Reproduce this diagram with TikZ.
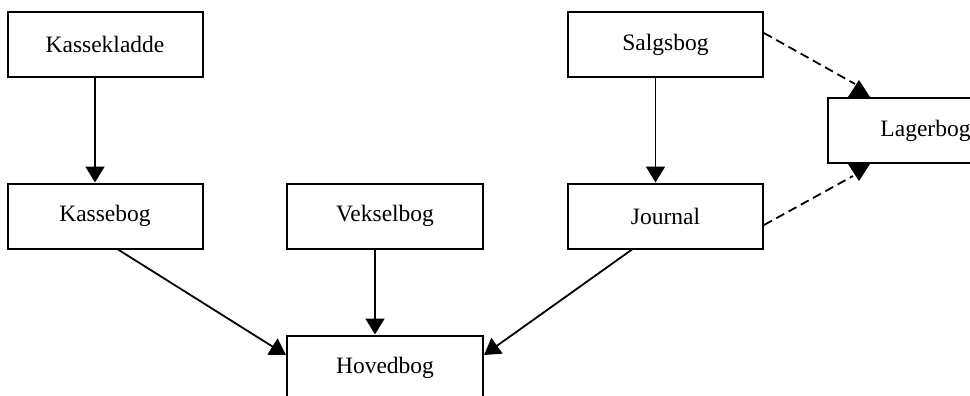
\documentclass[tikz,border=0pt]{standalone}
\usepackage{fontspec}
\setmainfont{Liberation Serif}
\usetikzlibrary{arrows.meta,calc}
\tikzset{
  book/.style={draw, line width=2pt, rectangle, minimum width=195pt, minimum height=65pt,
    inner sep=0pt, font=\fontsize{23.5}{28}\selectfont},
  arr/.style={line width=1.8pt, -{Triangle[length=16pt,width=19pt]}},
  dsh/.style={line width=1.8pt, dash pattern=on 9pt off 5pt},
  tri/.style={fill=black}
}
\begin{document}
\begin{tikzpicture}[x=1pt,y=-1pt]
\useasboundingbox (0,0) rectangle (970,396);
\clip (0,0) rectangle (970,396);
\node[book] (kk) at (105,44.5) {Kassekladde};
\node[book] (ks) at (105,216) {Kassebog};
\node[book, minimum width=196pt] (vk) at (385,216) {Vekselbog};
\node[book] (sg) at (665.5,44.5) {Salgsbog};
\node[book] (jr) at (665.5,216) {Journal};
\node[book] (lg) at (925.5,130.5) {Lagerbog};
\node[book, minimum width=196pt] (hb) at (385,368) {Hovedbog};

\draw[arr] ([xshift=-10pt]kk.south) -- ([xshift=-10pt]ks.north);
\draw[arr] ([xshift=-10pt]sg.south) -- ([xshift=-10pt]sg.south |- jr.north);
\draw[arr] ([xshift=-10pt]vk.south) -- ([xshift=-10pt]hb.north);
\draw[arr] ([xshift=13pt]ks.south) -- ([yshift=13pt]hb.west);
\draw[arr] ([xshift=-33.5pt]jr.south) -- ([yshift=13pt]hb.east);

\coordinate (ut) at ($(lg.north west)+(32,-17)$);
\coordinate (lt) at ($(lg.south west)+(32,17)$);
\draw[dsh] ([yshift=11.5pt]sg.east) -- ($(ut)+(-4,4)$);
\draw[dsh] ([yshift=-9pt]jr.east) -- ($(lt)+(-6,-5)$);
\fill[tri] (ut) -- ($(lg.north west)+(43,0)$) -- ($(lg.north west)+(21,0)$) -- cycle;
\fill[tri] (lt) -- ($(lg.south west)+(43,0)$) -- ($(lg.south west)+(21,0)$) -- cycle;
\end{tikzpicture}
\end{document}
